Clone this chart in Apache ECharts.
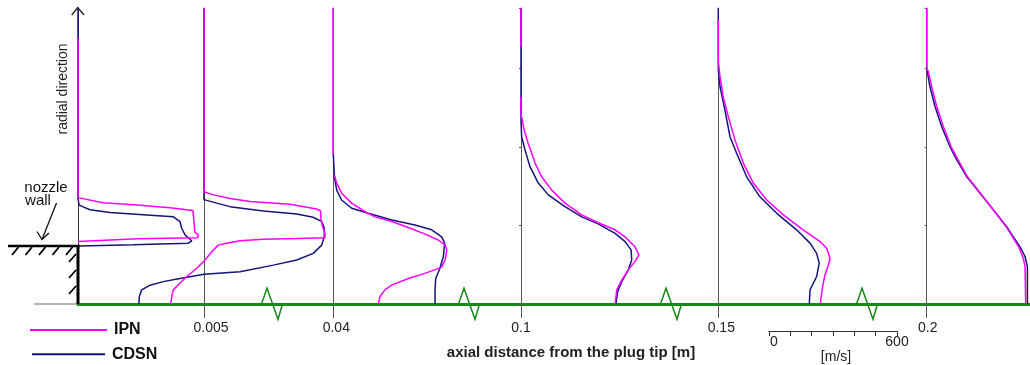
<!DOCTYPE html>
<html><head><meta charset="utf-8">
<script src="https://cdn.jsdelivr.net/npm/echarts@6/dist/echarts.min.js"></script>
<style>html,body{margin:0;padding:0;background:#fff}#c{width:1030px;height:365px}</style>
</head><body><div id="c"></div>
<script>
// ---- data: axial velocity [m/s], radial position [mm] ----
const stationLabels = ['', '0.005', '0.04', '0.1', '0.15', '0.2'];

const ipn_0  = [[0,67.8],[0,27.1],[9,26.8],[117,25.8],[277,25.2],[431,24.5],[539,23.8],[544,20.6],[548,18.3],[565,17.5],[560,16.9],[277,16.6],[103,16.2],[0,15.9]];
const cdsn_0 = [[0,75.4],[0,26.9],[5,25.2],[56,24.0],[150,23.3],[322,22.7],[447,22.2],[478,21.0],[486,19.3],[502,17.6],[533,16.1],[517,15.5],[258,15.1],[9,14.8],[0,14.8]];

const ipn_1  = [[0,75.4],[0,28.6],[44,27.8],[122,26.9],[216,26.1],[403,25.4],[528,24.2],[547,23.7],[548,21.8],[556,19.7],[567,18.1],[567,16.9],[435,16.7],[278,16.5],[169,16.1],[106,15.5],[67,15.0],[36,13.3],[5,11.2],[-34,9.1],[-81,7.0],[-113,5.3],[-144,3.6],[-151,1.9],[-156,0]];
const cdsn_1 = [[0,75.4],[0,26.6],[13,26.4],[60,25.7],[122,24.8],[278,23.7],[435,22.9],[512,22.1],[552,21.0],[564,19.3],[564,17.3],[552,15.0],[512,12.9],[435,11.2],[325,9.9],[169,8.2],[0,7.6],[-113,6.5],[-191,5.7],[-253,4.8],[-292,3.6],[-303,1.9],[-305,0]];

const ipn_2  = [[0,75.4],[0,38.0],[0,'-'],[5,32.9],[16,30.8],[39,28.2],[86,25.7],[149,23.5],[195,22.2],[274,21.0],[352,19.5],[430,17.8],[492,16.3],[524,15.0],[532,13.8],[524,11.2],[508,9.4],[430,7.8],[352,6.5],[274,4.8],[242,3.6],[219,1.9],[211,0]];
const cdsn_2 = [[0,75.4],[0,38.0],[5,32.4],[16,29.0],[39,26.5],[86,24.4],[164,23.1],[274,21.4],[383,20.1],[461,18.9],[508,17.1],[522,15.5],[516,12.1],[500,9.1],[480,6.5],[477,3.6],[477,0]];

const ipn_3  = [[0,75.4],[0,65.5],[0,'-'],[0,52.7],[0,48.2],[6,46.9],[15,44.3],[34,40.9],[66,35.9],[97,32.4],[144,29.0],[206,25.7],[285,22.7],[362,20.7],[441,18.9],[488,17.1],[534,14.6],[553,12.5],[534,10.8],[503,8.7],[472,6.1],[449,3.6],[441,0]];
const cdsn_3 = [[0,75.4],[0,46.9],[3,42.6],[19,39.2],[42,35.0],[81,30.8],[128,27.8],[206,24.8],[285,22.2],[362,20.4],[441,18.0],[488,15.9],[516,13.8],[519,11.2],[503,8.7],[472,5.7],[453,3.1],[445,0]];

const ipn_4  = [[0,72.4],[0,61.7],[8,57.9],[23,52.8],[47,47.7],[78,41.8],[117,35.9],[164,30.8],[227,26.5],[305,22.7],[398,18.9],[477,15.9],[508,14.2],[524,11.6],[516,9.9],[500,7.4],[489,4.4],[480,1.0],[479,0]];
const cdsn_4 = [[0,75.4],[0,59.6],[8,55.4],[31,49.4],[55,42.6],[86,38.4],[133,32.4],[195,27.3],[274,23.1],[367,18.9],[430,15.5],[461,12.9],[473,10.4],[461,7.0],[430,3.6],[427,0.6],[427,0]];

const ipn_5  = [[0,75.4],[0,60.1],[8,59.2],[23,55.4],[47,50.3],[78,45.2],[114,40.1],[147,36.7],[191,32.4],[252,28.2],[312,24.0],[372,19.7],[402,17.1],[433,14.4],[453,11.6],[461,9.5],[464,0]];
const cdsn_5 = [[0,75.4],[0,60.1],[3,59.2],[15,55.4],[39,50.3],[70,45.2],[109,40.1],[141,36.7],[188,32.4],[250,28.2],[312,24.0],[375,19.7],[406,17.1],[437,14.6],[461,12.1],[472,9.5],[472,0]];

const velScaleLabels = [0, 600];

// ---- layout / style ----
const PINK = '#ff00ff', NAVY = '#14147a', GREEN = '#168a16';
const FONT = '"Liberation Sans", Arial, sans-serif';
const S = 128 / 600;            // px per m/s
const baseX = [78, 204, 333.3, 521, 718.3, 926.7];
const labelShift = [0, 7, 3, 0, 3, 1];
const VMIN = -350, R_MAX = 75.4;
const vmaxOf = [650, 650, 650, 650, 650, 480];
const ipn = [ipn_0, ipn_1, ipn_2, ipn_3, ipn_4, ipn_5];
const cdsn = [cdsn_0, cdsn_1, cdsn_2, cdsn_3, cdsn_4, cdsn_5];

const grid = [], xAxis = [], yAxis = [], series = [];
baseX.forEach((b, i) => {
  const VMAX = vmaxOf[i];
  grid.push({left: b + VMIN * S, top: 8, width: (VMAX - VMIN) * S, height: 296});
  xAxis.push({gridIndex: i, type: 'value', min: VMIN, max: VMAX,
    axisLine: {show: false}, splitLine: {show: false},
    axisTick: {show: i > 0, customValues: [0], length: 14, lineStyle: {color: '#555'}},
    axisLabel: {show: i > 0, customValues: [0], formatter: () => stationLabels[i], margin: 17,
      padding: [0, 0, 0, 2 * labelShift[i]],
      fontSize: 14, color: '#222', fontFamily: FONT}});
  yAxis.push({gridIndex: i, type: 'value', min: 0, max: R_MAX, interval: 20,
    axisLine: {show: true, onZero: true, lineStyle: {color: i === 0 ? '#333' : '#555', width: 1}},
    axisTick: {show: i === 3 || i === 5, length: 2, lineStyle: {color: '#555'}},
    axisLabel: {show: false}, splitLine: {show: false}});
  series.push({name: 'CDSN', type: 'line', xAxisIndex: i, yAxisIndex: i, data: cdsn[i],
    showSymbol: false, symbol: 'none', connectNulls: false, clip: false,
    lineStyle: {color: NAVY, width: 1.5}, itemStyle: {color: NAVY}});
  series.push({name: 'IPN', type: 'line', xAxisIndex: i, yAxisIndex: i, data: ipn[i],
    showSymbol: false, symbol: 'none', connectNulls: false, clip: false,
    lineStyle: {color: PINK, width: 1.5}, itemStyle: {color: PINK}});
});

// axial (bottom green) axis
grid.push({left: 78, right: 0, top: 8, height: 296});
xAxis.push({gridIndex: 6, type: 'value', min: 0, max: 1,
  axisLine: {show: true, onZero: false, lineStyle: {color: GREEN, width: 3}},
  axisTick: {show: false}, axisLabel: {show: false}, splitLine: {show: false},
  name: 'axial distance from the plug tip [m]', nameLocation: 'middle', nameGap: 41,
  nameTextStyle: {fontSize: 15, fontWeight: 'bold', color: '#222', fontFamily: FONT, padding: [0, 0, 0, 34]}});
yAxis.push({gridIndex: 6, type: 'value', show: false});

// velocity scale bar
grid.push({left: 769, width: 128, top: 300, height: 43.3});
xAxis.push({gridIndex: 7, type: 'value', min: 0, max: 600, interval: 100,
  axisLine: {show: true, lineStyle: {color: '#333', width: 1}},
  axisTick: {show: true, length: 5, lineStyle: {color: '#333'}},
  axisLabel: {show: true, margin: 4, fontSize: 14, color: '#222', fontFamily: FONT,
    showMinLabel: true, showMaxLabel: true,
    formatter: v => v === velScaleLabels[0] ? '{a|' + v + '}' : (velScaleLabels.includes(v) ? String(v) : ''),
    rich: {a: {fontSize: 14, color: '#222', fontFamily: FONT, padding: [0, 0, 0, 10]}}},
  splitLine: {show: false},
  name: '[m/s]', nameLocation: 'middle', nameGap: 10,
  nameTextStyle: {fontSize: 14, color: '#222', fontFamily: FONT, padding: [0, 0, 0, 6]}});
yAxis.push({gridIndex: 7, type: 'value', show: false});

// decorations
const graphic = [];
const L = (x1, y1, x2, y2, stroke, w, z) => ({type: 'line', z: z || 50, shape: {x1, y1, x2, y2}, style: {stroke, lineWidth: w}});
graphic.push(L(34, 304, 78, 304, '#666', 1));
graphic.push(L(8, 246, 79.5, 246, '#000', 2.5, 60));
graphic.push(L(78, 245, 78, 304, '#000', 3, 60));
[15, 28.5, 42, 55.5, 69].forEach(cx => graphic.push(L(cx + 3.5, 247, cx - 3, 255, '#000', 1.8, 60)));
[258, 274, 290].forEach(cy => graphic.push(L(69, cy + 4, 76, cy - 4, '#000', 1.8, 60)));
graphic.push({type: 'polyline', z: 60, shape: {points: [[71.7, 15], [77.7, 7.5], [84, 15]]}, style: {stroke: '#222', fill: null, lineWidth: 1.3}});
graphic.push({type: 'text', z: 60, x: 63, y: 89, rotation: Math.PI / 2,
  style: {text: 'radial direction', font: '14px ' + FONT, fill: '#222', align: 'center', verticalAlign: 'middle'}});
graphic.push({type: 'text', z: 60, x: 46, y: 187.5, style: {text: 'nozzle', font: '15px ' + FONT, fill: '#111', align: 'center', verticalAlign: 'middle'}});
graphic.push({type: 'text', z: 60, x: 38, y: 201, style: {text: 'wall', font: '15px ' + FONT, fill: '#111', align: 'center', verticalAlign: 'middle'}});
graphic.push(L(56.5, 203, 42, 239.5, '#111', 1.3, 60));
graphic.push({type: 'polyline', z: 60, shape: {points: [[37, 231.5], [42, 239.5], [49, 233]]}, style: {stroke: '#111', fill: null, lineWidth: 1.3}});
[272, 469, 671, 867].forEach(c => graphic.push({type: 'polyline', z: 60,
  shape: {points: [[c - 10.5, 304], [c - 5, 288.3], [c + 6, 319.3], [c + 10.5, 304]]},
  style: {stroke: GREEN, fill: null, lineWidth: 1.5}}));

const legendCommon = {orient: 'vertical', padding: 0, icon: 'rect', itemHeight: 2, selectedMode: false};
const option = {
  animation: false,
  backgroundColor: '#fff',
  textStyle: {fontFamily: FONT},
  grid, xAxis, yAxis, series, graphic,
  legend: [
    Object.assign({}, legendCommon, {left: 30, top: 319, itemWidth: 77,
      data: [{name: 'IPN', itemStyle: {color: PINK}}],
      textStyle: {fontSize: 16, fontWeight: 'bold', color: '#111', lineHeight: 16, padding: [0, 0, 6, 2]}}),
    Object.assign({}, legendCommon, {left: 32, top: 340.3, itemWidth: 73,
      data: [{name: 'CDSN', itemStyle: {color: NAVY}}],
      textStyle: {fontSize: 16, fontWeight: 'bold', color: '#111', lineHeight: 16, padding: [0, 0, 12, 2]}})
  ]
};
const chart = echarts.init(document.getElementById('c'), null, {renderer: 'canvas'});
chart.setOption(option);
</script>
</body></html>
